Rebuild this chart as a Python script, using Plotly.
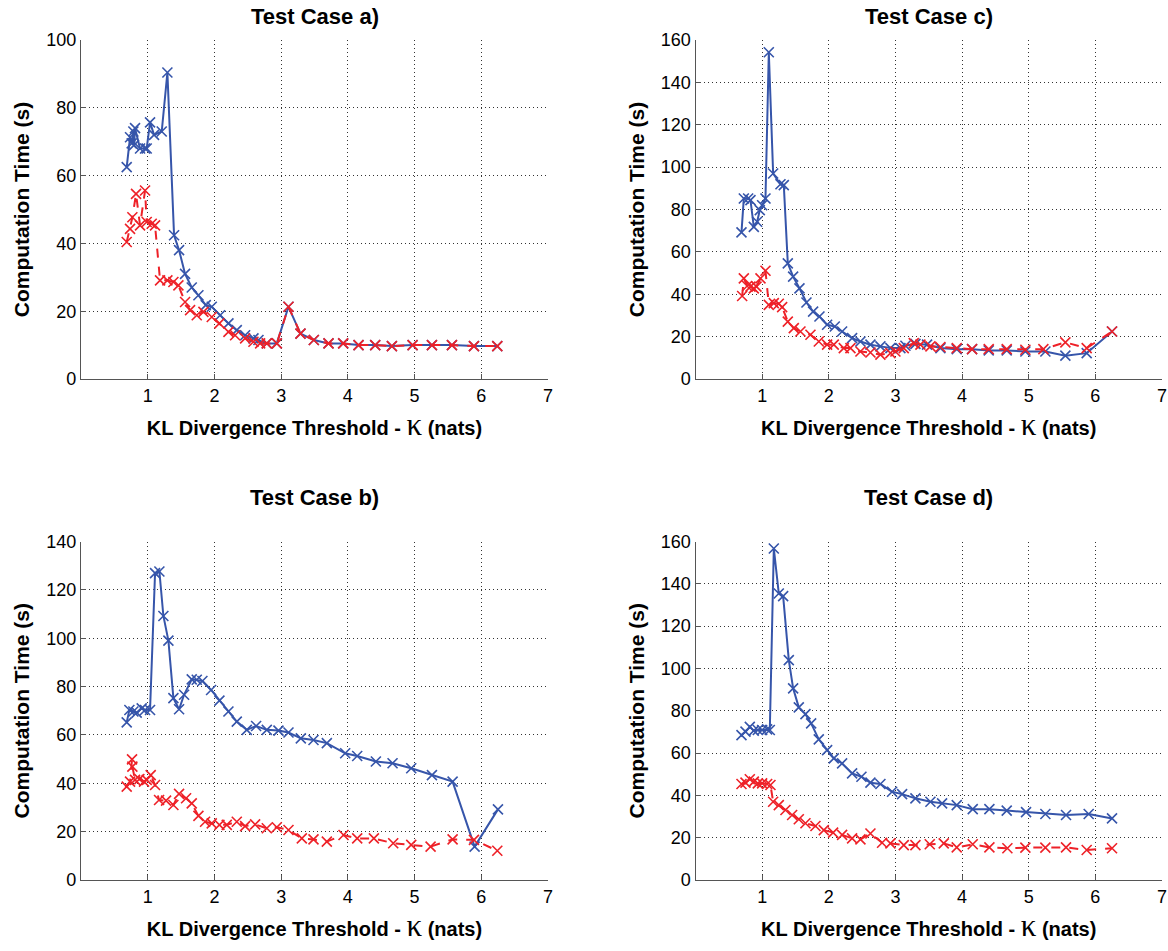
import plotly.graph_objects as go

# ---- Test case a) ----
a_blue_x = [0.685, 0.735, 0.76, 0.785, 0.795, 0.81, 0.885, 0.96, 0.985, 1.035, 1.095, 1.21, 1.295,
            1.395, 1.47, 1.56, 1.66, 1.76, 1.87, 1.96, 2.085, 2.21, 2.335, 2.46, 2.585, 2.66, 2.785,
            2.935, 3.11, 3.29, 3.49, 3.71, 3.93, 4.16, 4.41, 4.66, 4.97, 5.26, 5.56, 5.89, 6.24]
a_blue_y = [62.5, 71.3, 69.5, 73, 69, 74, 68, 68, 68, 75.7, 72, 73, 90.4,
            42.4, 38, 31, 27, 24.7, 21.8, 21.3, 18.8, 16.4, 14.4, 12.9, 12, 11.5, 10.5,
            10.5, 21.3, 13.4, 11.5, 10.5, 10.5, 10, 10, 9.7, 10, 10, 10, 9.7, 9.7]
a_red_x = [0.685, 0.735, 0.77, 0.825, 0.885, 0.96, 0.985, 1.06, 1.11, 1.185, 1.295, 1.385, 1.46,
           1.56, 1.635, 1.735, 1.835, 1.96, 2.075, 2.21, 2.31, 2.46, 2.585, 2.685, 2.785, 2.935,
           3.11, 3.29, 3.49, 3.71, 3.93, 4.16, 4.41, 4.66, 4.97, 5.26, 5.56, 5.89, 6.24]
a_red_y = [40.4, 44.3, 47.7, 54.6, 45.3, 55.6, 46.3, 45.8, 45.3, 29.1, 29.1, 28.6, 27.6,
           22.7, 20.3, 18.8, 19.8, 18.3, 16.4, 13.9, 12.9, 12, 11, 10.5, 10.5, 10.5,
           21.3, 13.4, 11.5, 10.5, 10.5, 10, 10, 9.7, 10, 10, 10, 9.7, 9.7]

# ---- Test case b) ----
b_blue_x = [0.685, 0.725, 0.785, 0.835, 0.91, 0.96, 1.035, 1.11, 1.175, 1.235, 1.31, 1.385, 1.47,
            1.545, 1.66, 1.735, 1.82, 1.95, 2.075, 2.21, 2.335, 2.485, 2.625, 2.785, 2.96, 3.11,
            3.295, 3.485, 3.685, 3.96, 4.14, 4.42, 4.67, 4.95, 5.26, 5.57, 5.9, 6.25]
b_blue_y = [65.2, 70.3, 69.7, 69.2, 71, 70.3, 70.3, 126.9, 127.6, 109.2, 99, 75.2, 70.6,
            76.6, 83, 82.8, 82.3, 78.6, 74.2, 69.7, 65.5, 62.1, 63.7, 62.1, 61.8, 61,
            58.6, 57.9, 56.6, 52.4, 51.3, 49, 48.3, 46.2, 43.4, 40.7, 13.8, 29.2]
b_red_x = [0.685, 0.735, 0.765, 0.77, 0.81, 0.875, 0.945, 0.985, 1.045, 1.11, 1.17, 1.275, 1.385,
           1.47, 1.575, 1.66, 1.76, 1.86, 1.96, 2.075, 2.185, 2.335, 2.46, 2.61, 2.785, 2.935,
           3.11, 3.31, 3.485, 3.685, 3.935, 4.14, 4.39, 4.68, 4.95, 5.24, 5.57, 5.89, 6.24]
b_red_y = [38.6, 40.7, 49.9, 46.9, 41.4, 41.7, 40.7, 41.4, 43.4, 39.3, 33.1, 32.8, 31,
           35.6, 33.8, 31.7, 26.5, 24.1, 23.4, 22.8, 22.8, 24.1, 22.3, 23, 21.4, 21.8,
           20.7, 17.2, 16.8, 15.9, 18.6, 17.2, 17.2, 15.2, 14.5, 13.8, 16.8, 16.6, 12.1]

# ---- Test case c) ----
c_blue_x = [0.69, 0.725, 0.79, 0.825, 0.875, 0.925, 0.965, 1.0, 1.05, 1.1, 1.165, 1.275, 1.325,
            1.385, 1.465, 1.56, 1.665, 1.765, 1.86, 1.975, 2.09, 2.2, 2.35, 2.475, 2.625, 2.775,
            2.925, 3.075, 3.15, 3.3, 3.475, 3.675, 3.92, 4.15, 4.4, 4.67, 4.95, 5.25, 5.55, 5.87, 6.25]
c_blue_y = [69.2, 85.2, 85.2, 84.4, 71.8, 74.2, 79.7, 82, 85.2, 154.2, 97, 91.9, 91.5,
            54.6, 48.3, 42.8, 36.1, 31.8, 29.5, 25.6, 24.8, 22.4, 19.3, 17.7, 16.2, 15.4,
            14.6, 14.6, 15.7, 16.6, 16.2, 14.6, 14.1, 14.1, 13.5, 13.5, 13, 13, 11, 12.2, 22.4]
c_red_x = [0.7, 0.725, 0.775, 0.825, 0.875, 0.915, 0.975, 1.05, 1.1, 1.175, 1.25, 1.3, 1.385,
           1.475, 1.575, 1.725, 1.85, 1.975, 2.075, 2.225, 2.325, 2.475, 2.625, 2.775, 2.925,
           3.0, 3.125, 3.275, 3.375, 3.525, 3.675, 3.92, 4.15, 4.4, 4.67, 4.95, 5.22, 5.55, 5.87, 6.25]
c_red_y = [39.2, 47.5, 43.9, 43.6, 42.8, 43.6, 47.5, 51.1, 35, 35.8, 35.5, 33.9, 27.1,
           24, 22.4, 20.9, 17.7, 16.2, 16.2, 14.6, 14.6, 13, 12.5, 11.5, 12.2,
           13, 14.6, 16.9, 16.2, 15.4, 15.1, 14.6, 14.1, 14.1, 14.1, 13.8, 14.1, 17.3, 14.6, 22.4]

# ---- Test case d) ----
d_blue_x = [0.69, 0.75, 0.815, 0.875, 0.935, 1.0, 1.075, 1.115, 1.175, 1.25, 1.315, 1.4, 1.465,
            1.55, 1.65, 1.735, 1.85, 1.975, 2.075, 2.2, 2.35, 2.49, 2.625, 2.775, 2.95, 3.1,
            3.3, 3.525, 3.7, 3.92, 4.16, 4.41, 4.67, 4.96, 5.25, 5.56, 5.9, 6.25]
d_blue_y = [68.5, 70.1, 72.4, 70.6, 70.9, 70.9, 71.2, 70.9, 156.7, 135.4, 134.2, 103.9, 90.6,
            81.6, 78.4, 74, 66.5, 61.4, 57.5, 55.1, 50.4, 48.8, 46, 45.4, 41.7, 40.6,
            38.6, 37, 36.2, 35.4, 33.5, 33.5, 32.8, 32.1, 31.2, 30.7, 31.2, 29.1]
d_red_x = [0.69, 0.75, 0.815, 0.875, 0.935, 1.0, 1.075, 1.125, 1.165, 1.25, 1.35, 1.45, 1.55,
           1.65, 1.8, 1.925, 2.065, 2.2, 2.35, 2.475, 2.625, 2.8, 2.925, 3.125, 3.3, 3.515,
           3.725, 3.92, 4.16, 4.41, 4.68, 4.95, 5.25, 5.56, 5.87, 6.25]
d_red_y = [45.4, 46, 47.6, 46.5, 45.7, 45.7, 45.4, 44.9, 37, 35.4, 33.1, 30.7, 28.7,
           26.8, 25.5, 23.6, 22.4, 21.3, 19.7, 19.2, 22, 17.6, 17.3, 16.5, 16.5, 16.9,
           17.3, 15.4, 16.9, 15.4, 15, 15.3, 15.3, 15.4, 14.2, 15]

panel_titles = ["Test Case a)", "Test Case c)", "Test Case b)", "Test Case d)"]
y_max = [100, 160, 140, 160]
x_ticks = [1, 2, 3, 4, 5, 6, 7]

BLUE = "#3655aa"
RED = "#ee2128"
FONT = "Liberation Sans, Arial, sans-serif"
W, H = 1168, 951

# axes boxes in pixels: (left, right, top, bottom) and title centre height
boxes = [(81, 548, 40, 379), (695.5, 1162, 40, 379),
         (81, 548, 541.5, 880), (695.5, 1162, 541.5, 880)]
title_y = [16, 16, 497, 497]

series = [
    (a_blue_x, a_blue_y, a_red_x, a_red_y),
    (c_blue_x, c_blue_y, c_red_x, c_red_y),
    (b_blue_x, b_blue_y, b_red_x, b_red_y),
    (d_blue_x, d_blue_y, d_red_x, d_red_y),
]

fig = go.Figure()
x_title = ("<b>KL Divergence Threshold - </b>"
           "<span style='font-size:31px;font-family:Liberation Serif'>κ</span>"
           "<b> (nats)</b>")

for i, (bx, by, rx, ry) in enumerate(series):
    n = "" if i == 0 else str(i + 1)
    xa, ya = "x" + n, "y" + n
    fig.add_trace(go.Scatter(
        x=bx, y=by, xaxis=xa, yaxis=ya, mode="lines+markers",
        line=dict(color=BLUE, width=2),
        marker=dict(symbol="x-thin", size=10, line=dict(color=BLUE, width=1.6)),
        showlegend=False))
    fig.add_trace(go.Scatter(
        x=rx, y=ry, xaxis=xa, yaxis=ya, mode="lines+markers",
        line=dict(color=RED, width=2, dash="dash"),
        marker=dict(symbol="x-thin", size=10, line=dict(color=RED, width=1.6)),
        showlegend=False))

    l, r, t, b = boxes[i]
    common = dict(showgrid=True, gridcolor="#333333", griddash="1px,3px", gridwidth=1,
                  showline=True, linecolor="#555555", linewidth=1.2,
                  ticks="inside", ticklen=5, tickcolor="#555555", automargin=False,
                  zeroline=False, tickfont=dict(family=FONT, size=18, color="black"))
    fig.update_layout(**{
        "xaxis" + n: dict(domain=[l / W, r / W], anchor=ya, range=[0, 7],
                          tickvals=x_ticks, title=dict(text=x_title, standoff=16,
                          font=dict(family=FONT, size=20, color="black")), **common),
        "yaxis" + n: dict(domain=[1 - b / H, 1 - t / H], anchor=xa, range=[0, y_max[i]],
                          dtick=20, title=dict(text="<b>Computation Time (s)</b>", standoff=10,
                          font=dict(family=FONT, size=21, color="black")), **common),
    })
    fig.add_annotation(x=(l + r) / 2 / W, y=1 - title_y[i] / H, xref="paper", yref="paper",
                       text="<b>" + panel_titles[i] + "</b>", showarrow=False,
                       font=dict(family=FONT, size=22, color="black"),
                       xanchor="center", yanchor="middle")

fig.update_layout(width=W, height=H, margin=dict(l=0, r=0, t=0, b=0),
                  plot_bgcolor="white", paper_bgcolor="white")

fig.write_html("out.html")
